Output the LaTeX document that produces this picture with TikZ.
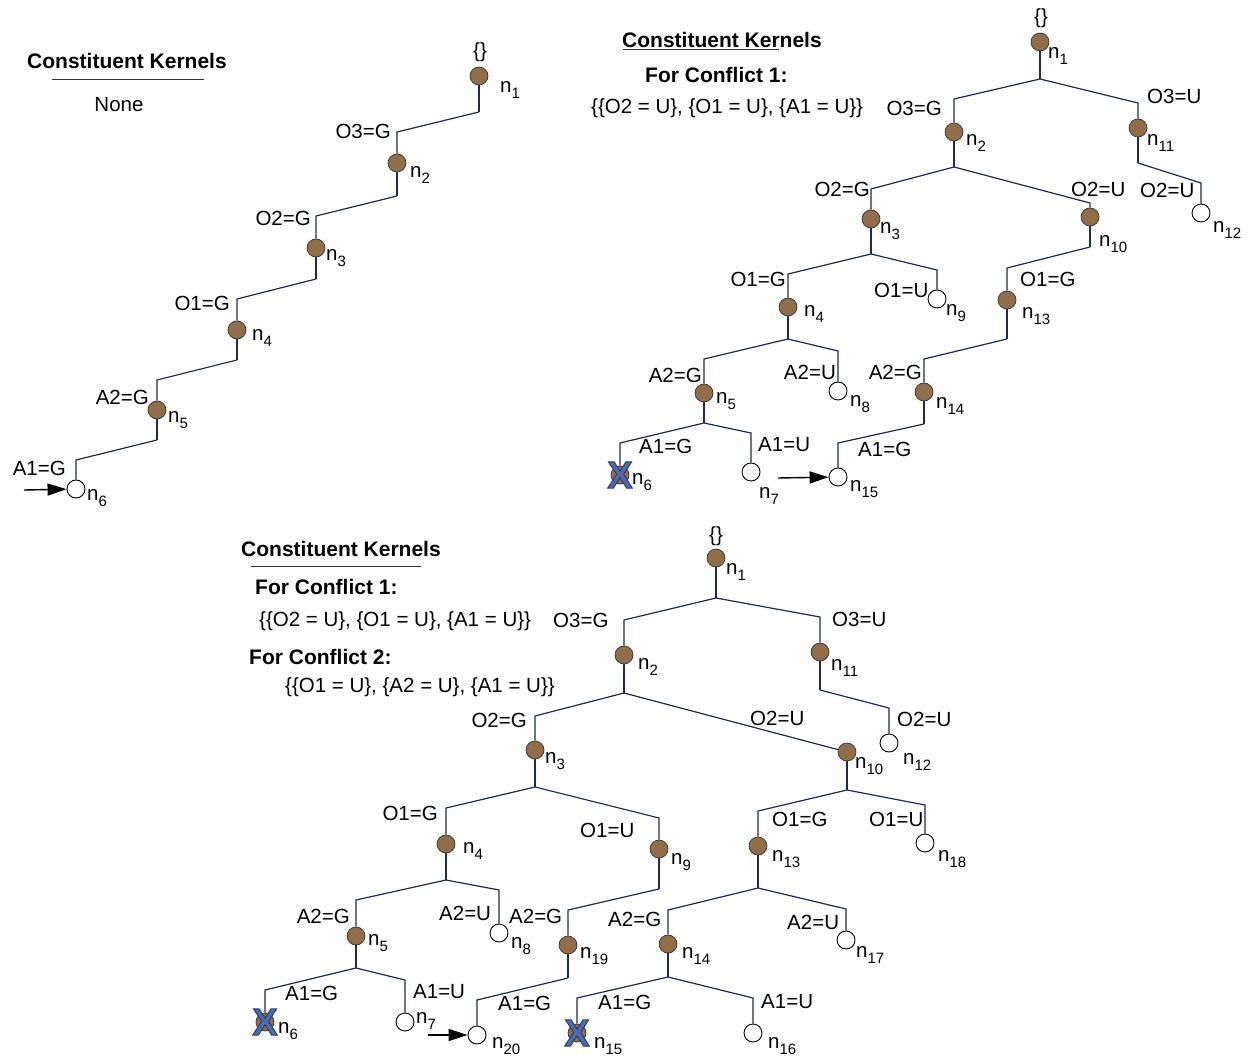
\documentclass[tikz,border=0pt]{standalone}
\usepackage{fontspec}
\setmainfont{Liberation Sans}
\usetikzlibrary{arrows.meta}
\definecolor{branch}{RGB}{30,40,92}
\definecolor{stateg}{RGB}{145,110,72}
\definecolor{crossblue}{RGB}{78,106,172}
\newcommand\nlab[1]{n\raisebox{-.5ex}{\fontsize{15}{15}\selectfont #1}}
% outlined glyph: fill with current colour, stroke with a darker blue
\newcommand\outlined[1]{\special{pdf:literal direct 2 Tr 0.9 w 0.16 0.22 0.42 RG}#1\special{pdf:literal direct 0 Tr}}

\begin{document}
\begin{tikzpicture}[x=1pt,y=-1pt,
  every node/.style={font=\fontsize{20.5}{24}\selectfont},
  gnode/.style={circle,draw=black!80,line width=0.7pt,fill=stateg,minimum size=18pt,inner sep=0pt},
  unode/.style={circle,draw=black,line width=0.9pt,fill=white,minimum size=18pt,inner sep=0pt},
  cross/.style={text=crossblue,font=\bfseries\fontsize{38}{38}\selectfont,inner sep=0pt},
  lbl/.style={inner sep=0pt},
  sub/.style={inner sep=0pt,anchor=west},
  title/.style={inner sep=0pt,font=\bfseries\fontsize{21}{24}\selectfont},
  link/.style={draw=branch,line width=1.2pt},
  stem/.style={draw=branch,line width=2pt},
  pointer/.style={-{Triangle[length=19pt,width=12pt]},line width=1.4pt,black}
]
\fill[white] (0,0) rectangle (1258,1056);
\useasboundingbox (0,0) rectangle (1258,1056);

%% ---------------- Tree A: single path ----------------
\node[title] (Atitle) at (127,61) {Constituent Kernels};
\draw[line width=1pt,black!80] (52,80) -- (204,80);
\node[lbl] (Anone) at (119,105) {None};

\node[lbl] (Abr) at (480,52) {\{\}};
\node[gnode] (A1) at (479,76) {};
\coordinate (Ab1) at (479,112);
\coordinate (Ac2) at (397,132);
\node[gnode] (A2) at (397,163) {};
\coordinate (Ab2) at (397,196);
\coordinate (Ac3) at (316,216);
\node[gnode] (A3) at (316,248) {};
\coordinate (Ab3) at (316,279);
\coordinate (Ac4) at (237,299);
\node[gnode] (A4) at (237,330) {};
\coordinate (Ab4) at (237,360);
\coordinate (Ac5) at (157,380);
\node[gnode] (A5) at (157,410) {};
\coordinate (Ab5) at (157,440);
\coordinate (Ac6) at (76,460);
\node[unode] (A6) at (76,489) {};
\coordinate (Aarr) at (24,490);

\draw[stem] (A1) -- (Ab1);
\draw[link] (Ab1) -- (Ac2) -- (A2);
\draw[stem] (A2) -- (Ab2);
\draw[link] (Ab2) -- (Ac3) -- (A3);
\draw[stem] (A3) -- (Ab3);
\draw[link] (Ab3) -- (Ac4) -- (A4);
\draw[stem] (A4) -- (Ab4);
\draw[link] (Ab4) -- (Ac5) -- (A5);
\draw[stem] (A5) -- (Ab5);
\draw[link] (Ab5) -- (Ac6) -- (A6);
\draw[pointer] (Aarr) -- (A6);

\node[sub] (A1l) at (500,90) {\nlab{1}};
\node[sub] (A2l) at (410,175) {\nlab{2}};
\node[sub] (A3l) at (326,258) {\nlab{3}};
\node[sub] (A4l) at (252,338) {\nlab{4}};
\node[sub] (A5l) at (168,420) {\nlab{5}};
\node[sub] (A6l) at (87,498) {\nlab{6}};
\node[lbl,anchor=east] (Ae2) at (391,131) {O3=G};
\node[lbl,anchor=east] (Ae3) at (311,218) {O2=G};
\node[lbl,anchor=east] (Ae4) at (230,303) {O1=G};
\node[lbl,anchor=east] (Ae5) at (149,397) {A2=G};
\node[lbl,anchor=east] (Ae6) at (66,468) {A1=G};

%% ---------------- Tree B: one conflict ----------------
\node[title] (Btitle) at (722,40) {Constituent Kernels};
\draw[line width=1pt,black!80] (623,50) -- (779,50);
\node[title,anchor=west] (Bconf) at (645,75) {For Conflict 1:};
\node[lbl,anchor=west] (Bker) at (591,108) {\{\{O2 = U\}, \{O1 = U\}, \{A1 = U\}\}};

\node[lbl] (Bbr) at (1041,18) {\{\}};
\node[gnode] (B1) at (1040,42) {};
\coordinate (Bb1) at (1040,79);
\coordinate (Bc2) at (954,99);
\node[gnode] (B2) at (954,132) {};
\coordinate (Bc11) at (1138,103);
\node[gnode] (B11) at (1138,128) {};
\coordinate (Bb2) at (954,167);
\coordinate (Bc3) at (871,189);
\node[gnode] (B3) at (871,219) {};
\coordinate (Bc10) at (1090,203);
\node[gnode] (B10) at (1090,217) {};
\coordinate (Bb11) at (1138,163);
\coordinate (Bc12) at (1201,183);
\node[unode] (B12) at (1201,213) {};
\coordinate (Bb3) at (871,254);
\coordinate (Bc4) at (788,274);
\node[gnode] (B4) at (788,307) {};
\coordinate (Bc9) at (937,270);
\node[unode] (B9) at (937,299) {};
\coordinate (Bb10) at (1090,247);
\coordinate (Bc13) at (1007,268);
\node[gnode] (B13) at (1007,300) {};
\coordinate (Bb4) at (788,339);
\coordinate (Bc5) at (704,359);
\node[gnode] (B5) at (704,393) {};
\coordinate (Bc8) at (838,351);
\node[unode] (B8) at (838,391) {};
\coordinate (Bb13) at (1007,339);
\coordinate (Bc14) at (924,359);
\node[gnode] (B14) at (924,392) {};
\coordinate (Bb5) at (704,423);
\coordinate (Bc6) at (620,443);
\node[gnode] (B6) at (620,475) {};
\node[cross] (B6x) at (620,475) {\outlined{X}};
\coordinate (Bc7) at (751,433);
\node[unode] (B7) at (751,472) {};
\coordinate (Bb14) at (924,424);
\coordinate (Bc15) at (838,443);
\node[unode] (B15) at (838,477) {};
\coordinate (Barr) at (778,478);

\draw[stem] (B1) -- (Bb1);
\draw[link] (Bb1) -- (Bc2) -- (B2);
\draw[link] (Bb1) -- (Bc11) -- (B11);
\draw[stem] (B2) -- (Bb2);
\draw[link] (Bb2) -- (Bc3) -- (B3);
\draw[link] (Bb2) -- (Bc10) -- (B10);
\draw[stem] (B11) -- (Bb11);
\draw[link] (Bb11) -- (Bc12) -- (B12);
\draw[stem] (B3) -- (Bb3);
\draw[link] (Bb3) -- (Bc4) -- (B4);
\draw[link] (Bb3) -- (Bc9) -- (B9);
\draw[stem] (B10) -- (Bb10);
\draw[link] (Bb10) -- (Bc13) -- (B13);
\draw[stem] (B4) -- (Bb4);
\draw[link] (Bb4) -- (Bc5) -- (B5);
\draw[link] (Bb4) -- (Bc8) -- (B8);
\draw[stem] (B13) -- (Bb13);
\draw[link] (Bb13) -- (Bc14) -- (B14);
\draw[stem] (B5) -- (Bb5);
\draw[link] (Bb5) -- (Bc6) -- (B6);
\draw[link] (Bb5) -- (Bc7) -- (B7);
\draw[stem] (B14) -- (Bb14);
\draw[link] (Bb14) -- (Bc15) -- (B15);
\draw[pointer] (Barr) -- (B15);

\node[sub] (B1l) at (1048,56) {\nlab{1}};
\node[sub] (B2l) at (966,143) {\nlab{2}};
\node[sub] (B11l) at (1147,143) {\nlab{11}};
\node[sub] (B3l) at (880,231) {\nlab{3}};
\node[sub] (B10l) at (1099,244) {\nlab{10}};
\node[sub] (B12l) at (1213,230) {\nlab{12}};
\node[sub] (B9l) at (946,313) {\nlab{9}};
\node[sub] (B4l) at (804,314) {\nlab{4}};
\node[sub] (B13l) at (1022,316) {\nlab{13}};
\node[sub] (B8l) at (850,404) {\nlab{8}};
\node[sub] (B5l) at (716,401) {\nlab{5}};
\node[sub] (B14l) at (936,406) {\nlab{14}};
\node[sub] (B6l) at (632,482) {\nlab{6}};
\node[sub] (B7l) at (759,496) {\nlab{7}};
\node[sub] (B15l) at (850,489) {\nlab{15}};
\node[lbl,anchor=east] (Be2) at (942,108) {O3=G};
\node[lbl,anchor=west] (Be11) at (1147,96) {O3=U};
\node[lbl,anchor=east] (Be3) at (870,189) {O2=G};
\node[lbl,anchor=west] (Be10) at (1071,189) {O2=U};
\node[lbl,anchor=west] (Be12) at (1140,190) {O2=U};
\node[lbl,anchor=east] (Be4) at (786,279) {O1=G};
\node[lbl,anchor=west] (Be9) at (874,290) {O1=U};
\node[lbl,anchor=west] (Be13) at (1020,279) {O1=G};
\node[lbl,anchor=east] (Be5) at (702,375) {A2=G};
\node[lbl,anchor=east] (Be8) at (836,372) {A2=U};
\node[lbl,anchor=east] (Be14) at (922,372) {A2=G};
\node[lbl,anchor=west] (Be6) at (639,446) {A1=G};
\node[lbl,anchor=west] (Be7) at (758,445) {A1=U};
\node[lbl,anchor=west] (Be15) at (858,449) {A1=G};

%% ---------------- Tree C: two conflicts ----------------
\node[title,anchor=west] (Ctitle) at (241,549) {Constituent Kernels};
\draw[line width=1pt,black!80] (251,566) -- (421,566);
\node[title,anchor=west] (Cconf1) at (255,587) {For Conflict 1:};
\node[lbl,anchor=west] (Cker1) at (259,621) {\{\{O2 = U\}, \{O1 = U\}, \{A1 = U\}\}};
\node[title,anchor=west] (Cconf2) at (249,657) {For Conflict 2:};
\node[lbl,anchor=west] (Cker2) at (285,687) {\{\{O1 = U\}, \{A2 = U\}, \{A1 = U\}\}};

\node[lbl] (Cbr) at (716,536) {\{\}};
\node[gnode] (C1) at (716,558) {};
\coordinate (Cb1) at (716,598);
\coordinate (Cc2) at (624,620);
\node[gnode] (C2) at (624,655) {};
\coordinate (Cc11) at (820,617);
\node[gnode] (C11) at (820,652) {};
\coordinate (Cb11) at (820,690);
\coordinate (Cc12) at (889,708);
\node[unode] (C12) at (889,743) {};
\coordinate (Cb2) at (624,693);
\coordinate (Cc3) at (535,716);
\node[gnode] (C3) at (535,750) {};
\node[gnode] (C10) at (847,752) {};
\coordinate (Cb3) at (535,787);
\coordinate (Cc4) at (446,808);
\node[gnode] (C4) at (446,844) {};
\coordinate (Cc9) at (659,818);
\node[gnode] (C9) at (659,849) {};
\coordinate (Cb10) at (847,790);
\coordinate (Cc13) at (758,811);
\node[gnode] (C13) at (758,846) {};
\coordinate (Cc18) at (925,805);
\node[unode] (C18) at (925,843) {};
\coordinate (Cb4) at (446,880);
\coordinate (Cc5) at (356,900);
\node[gnode] (C5) at (356,936) {};
\coordinate (Cc8) at (499,890);
\node[unode] (C8) at (499,933) {};
\coordinate (Cb9) at (659,889);
\coordinate (Cc19) at (568,910);
\node[gnode] (C19) at (568,945) {};
\coordinate (Cb13) at (758,888);
\coordinate (Cc14) at (668,910);
\node[gnode] (C14) at (668,944) {};
\coordinate (Cc17) at (846,909);
\node[unode] (C17) at (846,940) {};
\coordinate (Cb5) at (356,968);
\coordinate (Cc6) at (265,990);
\node[gnode] (C6) at (265,1022) {};
\node[cross] (C6x) at (265,1022) {\outlined{X}};
\coordinate (Cc7) at (405,980);
\node[unode] (C7) at (405,1022) {};
\coordinate (Cb19) at (568,978);
\coordinate (Cc20) at (477,1000);
\node[unode] (C20) at (477,1035) {};
\coordinate (Cb14) at (668,977);
\coordinate (Cc15) at (577,998);
\node[gnode] (C15) at (577,1033) {};
\node[cross] (C15x) at (577,1033) {\outlined{X}};
\coordinate (Cc16) at (753,998);
\node[unode] (C16) at (753,1033) {};
\coordinate (Carr) at (428,1035);

\draw[stem] (C1) -- (Cb1);
\draw[link] (Cb1) -- (Cc2) -- (C2);
\draw[link] (Cb1) -- (Cc11) -- (C11);
\draw[stem] (C11) -- (Cb11);
\draw[link] (Cb11) -- (Cc12) -- (C12);
\draw[stem] (C2) -- (Cb2);
\draw[link] (Cb2) -- (Cc3) -- (C3);
\draw[link] (Cb2) -- (C10);
\draw[stem] (C3) -- (Cb3);
\draw[link] (Cb3) -- (Cc4) -- (C4);
\draw[link] (Cb3) -- (Cc9) -- (C9);
\draw[stem] (C10) -- (Cb10);
\draw[link] (Cb10) -- (Cc13) -- (C13);
\draw[link] (Cb10) -- (Cc18) -- (C18);
\draw[stem] (C4) -- (Cb4);
\draw[link] (Cb4) -- (Cc5) -- (C5);
\draw[link] (Cb4) -- (Cc8) -- (C8);
\draw[stem] (C9) -- (Cb9);
\draw[link] (Cb9) -- (Cc19) -- (C19);
\draw[stem] (C13) -- (Cb13);
\draw[link] (Cb13) -- (Cc14) -- (C14);
\draw[link] (Cb13) -- (Cc17) -- (C17);
\draw[stem] (C5) -- (Cb5);
\draw[link] (Cb5) -- (Cc6) -- (C6);
\draw[link] (Cb5) -- (Cc7) -- (C7);
\draw[stem] (C19) -- (Cb19);
\draw[link] (Cb19) -- (Cc20) -- (C20);
\draw[stem] (C14) -- (Cb14);
\draw[link] (Cb14) -- (Cc15) -- (C15);
\draw[link] (Cb14) -- (Cc16) -- (C16);
\draw[pointer] (Carr) -- (C20);

\node[sub] (C1l) at (726,572) {\nlab{1}};
\node[sub] (C2l) at (638,667) {\nlab{2}};
\node[sub] (C11l) at (831,668) {\nlab{11}};
\node[sub] (C3l) at (545,761) {\nlab{3}};
\node[sub] (C10l) at (855,766) {\nlab{10}};
\node[sub] (C12l) at (903,762) {\nlab{12}};
\node[sub] (C4l) at (463,851) {\nlab{4}};
\node[sub] (C9l) at (671,862) {\nlab{9}};
\node[sub] (C13l) at (772,859) {\nlab{13}};
\node[sub] (C18l) at (938,859) {\nlab{18}};
\node[sub] (C5l) at (368,943) {\nlab{5}};
\node[sub] (C8l) at (511,946) {\nlab{8}};
\node[sub] (C19l) at (580,956) {\nlab{19}};
\node[sub] (C14l) at (682,956) {\nlab{14}};
\node[sub] (C17l) at (856,955) {\nlab{17}};
\node[sub] (C6l) at (278,1031) {\nlab{6}};
\node[sub] (C7l) at (416,1021) {\nlab{7}};
\node[sub] (C20l) at (492,1046) {\nlab{20}};
\node[sub] (C15l) at (594,1046) {\nlab{15}};
\node[sub] (C16l) at (768,1046) {\nlab{16}};
\node[lbl,anchor=west] (Ce2) at (553,620) {O3=G};
\node[lbl,anchor=west] (Ce11) at (832,619) {O3=U};
\node[lbl,anchor=east] (Ce3) at (527,720) {O2=G};
\node[lbl,anchor=west] (Ce10) at (750,718) {O2=U};
\node[lbl,anchor=west] (Ce12) at (897,719) {O2=U};
\node[lbl,anchor=east] (Ce4) at (438,813) {O1=G};
\node[lbl,anchor=west] (Ce9) at (580,830) {O1=U};
\node[lbl,anchor=west] (Ce13) at (772,819) {O1=G};
\node[lbl,anchor=west] (Ce18) at (869,819) {O1=U};
\node[lbl,anchor=east] (Ce5) at (350,916) {A2=G};
\node[lbl,anchor=west] (Ce8) at (439,913) {A2=U};
\node[lbl,anchor=west] (Ce19) at (509,916) {A2=G};
\node[lbl,anchor=west] (Ce14) at (608,919) {A2=G};
\node[lbl,anchor=west] (Ce17) at (787,922) {A2=U};
\node[lbl,anchor=west] (Ce6) at (285,993) {A1=G};
\node[lbl,anchor=west] (Ce7) at (413,992) {A1=U};
\node[lbl,anchor=west] (Ce20) at (498,1003) {A1=G};
\node[lbl,anchor=west] (Ce15) at (598,1002) {A1=G};
\node[lbl,anchor=west] (Ce16) at (761,1002) {A1=U};
\end{tikzpicture}
\end{document}
